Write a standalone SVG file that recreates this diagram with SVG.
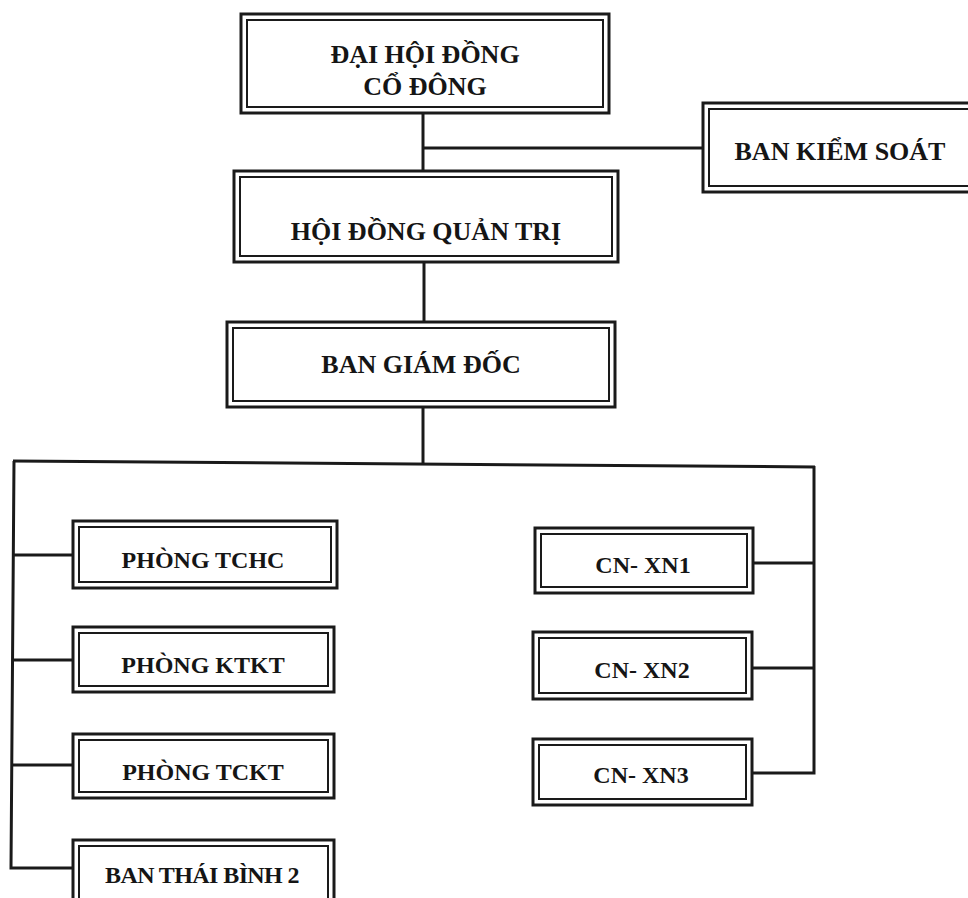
<svg xmlns="http://www.w3.org/2000/svg" width="968" height="898" viewBox="0 0 968 898">
<style>
.o{fill:#fff;stroke:#1a1a1a;stroke-width:3}
.i{fill:none;stroke:#1a1a1a;stroke-width:2}
.c{fill:none;stroke:#1a1a1a;stroke-width:3;stroke-linejoin:miter}
.t{font-family:"Liberation Serif","Times New Roman",serif;font-weight:bold;fill:#151515;text-anchor:middle}
.L{font-size:26px}
.S{font-size:24px}
</style>
<rect width="968" height="898" fill="#fff"/>
<g id="connectors">
<path class="c" d="M423,113 V171"/>
<path class="c" d="M423,148 H703"/>
<path class="c" d="M424,262 V322"/>
<path class="c" d="M423,407 V463"/>
<path class="c" d="M13,461 L815,467"/>
<path class="c" d="M14,461 L11,868 H73"/>
<path class="c" d="M13,555 H73"/>
<path class="c" d="M12,660 H73"/>
<path class="c" d="M12,765 H73"/>
<path class="c" d="M814,466 V773 H752"/>
<path class="c" d="M753,563 H814"/>
<path class="c" d="M752,668 H814"/>
</g>
<g id="dhdcd">
<rect class="o" x="241" y="14" width="368" height="99"/>
<rect class="i" x="247" y="20" width="356" height="87"/>
<text class="t L" x="425" y="63">ĐẠI HỘI ĐỒNG</text>
<text class="t L" x="425" y="95">CỔ ĐÔNG</text>
</g>
<g id="bks">
<rect class="o" x="703" y="103" width="280" height="89"/>
<rect class="i" x="709" y="109" width="268" height="77"/>
<text class="t L" x="840" y="160">BAN KIỂM SOÁT</text>
</g>
<g id="hdqt">
<rect class="o" x="234" y="171" width="384" height="91"/>
<rect class="i" x="240" y="177" width="372" height="79"/>
<text class="t L" x="426" y="240">HỘI ĐỒNG QUẢN TRỊ</text>
</g>
<g id="bgd">
<rect class="o" x="227" y="322" width="388" height="85"/>
<rect class="i" x="233" y="328" width="376" height="73"/>
<text class="t L" x="421" y="373">BAN GIÁM ĐỐC</text>
</g>
<g id="tchc">
<rect class="o" x="73" y="521" width="264" height="67"/>
<rect class="i" x="79" y="527" width="252" height="55"/>
<text class="t S" x="203" y="568">PHÒNG TCHC</text>
</g>
<g id="ktkt">
<rect class="o" x="73" y="627" width="261" height="65"/>
<rect class="i" x="79" y="633" width="249" height="53"/>
<text class="t S" x="203" y="673">PHÒNG KTKT</text>
</g>
<g id="tckt">
<rect class="o" x="73" y="734" width="261" height="64"/>
<rect class="i" x="79" y="740" width="249" height="52"/>
<text class="t S" x="203" y="780">PHÒNG TCKT</text>
</g>
<g id="btb2">
<rect class="o" x="73" y="840" width="261" height="70"/>
<rect class="i" x="79" y="846" width="249" height="60"/>
<text class="t S" x="202" y="883" letter-spacing="-0.6">BAN THÁI BÌNH 2</text>
</g>
<g id="xn1">
<rect class="o" x="535" y="528" width="218" height="65"/>
<rect class="i" x="541" y="534" width="206" height="53"/>
<text class="t S" x="643" y="573">CN- XN1</text>
</g>
<g id="xn2">
<rect class="o" x="533" y="632" width="219" height="67"/>
<rect class="i" x="539" y="638" width="207" height="55"/>
<text class="t S" x="642" y="678">CN- XN2</text>
</g>
<g id="xn3">
<rect class="o" x="533" y="739" width="219" height="66"/>
<rect class="i" x="539" y="745" width="207" height="54"/>
<text class="t S" x="641" y="783">CN- XN3</text>
</g>
</svg>
